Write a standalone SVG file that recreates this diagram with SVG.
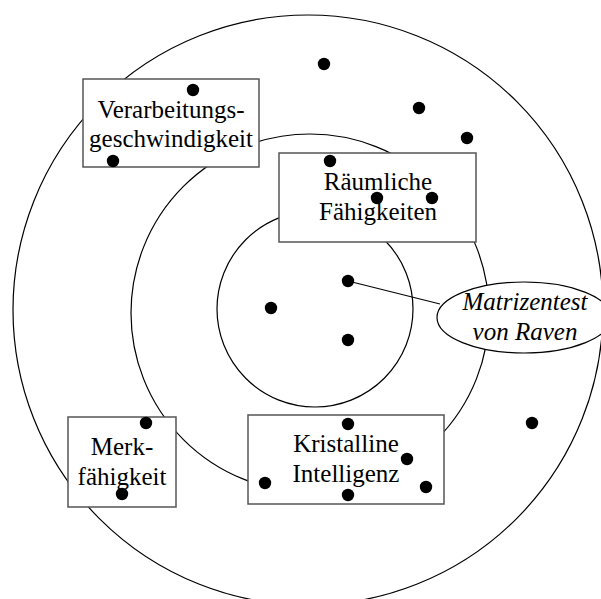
<svg xmlns="http://www.w3.org/2000/svg" width="601" height="599" viewBox="0 0 601 599">
<style>
.ring{fill:none;stroke:#000;stroke-width:1.2}
.box{fill:#fff;stroke:#555;stroke-width:1.5}
.ell{fill:#fff;stroke:#000;stroke-width:1.2}
.t{font-family:"Liberation Serif","Times New Roman",serif;font-size:25px;fill:#000;text-anchor:middle}
.it{font-style:italic}
.dot{fill:#000}
.link{stroke:#000;stroke-width:1.2;fill:none}
</style>
<rect width="601" height="599" fill="#fff"/>
<g id="rings">
<circle class="ring" cx="308" cy="310" r="295"/>
<circle class="ring" cx="310" cy="313" r="179"/>
<circle class="ring" cx="315" cy="309" r="98"/>
</g>
<g id="connectors">
<line class="link" x1="348" y1="281" x2="440" y2="304"/>
</g>
<g id="verarbeitung">
<rect class="box" x="83" y="79" width="176" height="88"/>
<text class="t" x="171" y="118">Verarbeitungs-</text>
<text class="t" x="171" y="147">geschwindigkeit</text>
</g>
<g id="raeumlich">
<rect class="box" x="279" y="153" width="197" height="89"/>
<text class="t" x="378" y="190">Räumliche</text>
<text class="t" x="378" y="220">Fähigkeiten</text>
</g>
<g id="merk">
<rect class="box" x="68" y="417" width="108" height="90"/>
<text class="t" x="122" y="455">Merk-</text>
<text class="t" x="122" y="485">fähigkeit</text>
</g>
<g id="kristallin">
<rect class="box" x="248" y="415" width="196" height="89"/>
<text class="t" x="346" y="452">Kristalline</text>
<text class="t" x="346" y="482">Intelligenz</text>
</g>
<g id="raven">
<ellipse class="ell" cx="524" cy="317.5" rx="87" ry="35.5"/>
<text class="t it" x="525" y="310">Matrizentest</text>
<text class="t it" x="525" y="340">von Raven</text>
</g>
<g id="points">
<circle class="dot" cx="324" cy="64" r="6.2"/>
<circle class="dot" cx="419" cy="108" r="6.2"/>
<circle class="dot" cx="467" cy="138" r="6.2"/>
<circle class="dot" cx="193" cy="90" r="6.2"/>
<circle class="dot" cx="113" cy="161" r="6.2"/>
<circle class="dot" cx="330" cy="161" r="6.2"/>
<circle class="dot" cx="377" cy="198" r="6.2"/>
<circle class="dot" cx="432" cy="198" r="6.2"/>
<circle class="dot" cx="348" cy="281" r="6.2"/>
<circle class="dot" cx="271" cy="308" r="6.2"/>
<circle class="dot" cx="348" cy="340" r="6.2"/>
<circle class="dot" cx="532" cy="423" r="6.2"/>
<circle class="dot" cx="348" cy="424" r="6.2"/>
<circle class="dot" cx="407" cy="459" r="6.2"/>
<circle class="dot" cx="265" cy="483" r="6.2"/>
<circle class="dot" cx="426" cy="487" r="6.2"/>
<circle class="dot" cx="348" cy="495" r="6.2"/>
<circle class="dot" cx="146" cy="423" r="6.2"/>
<circle class="dot" cx="122" cy="494" r="6.2"/>
</g>
</svg>
